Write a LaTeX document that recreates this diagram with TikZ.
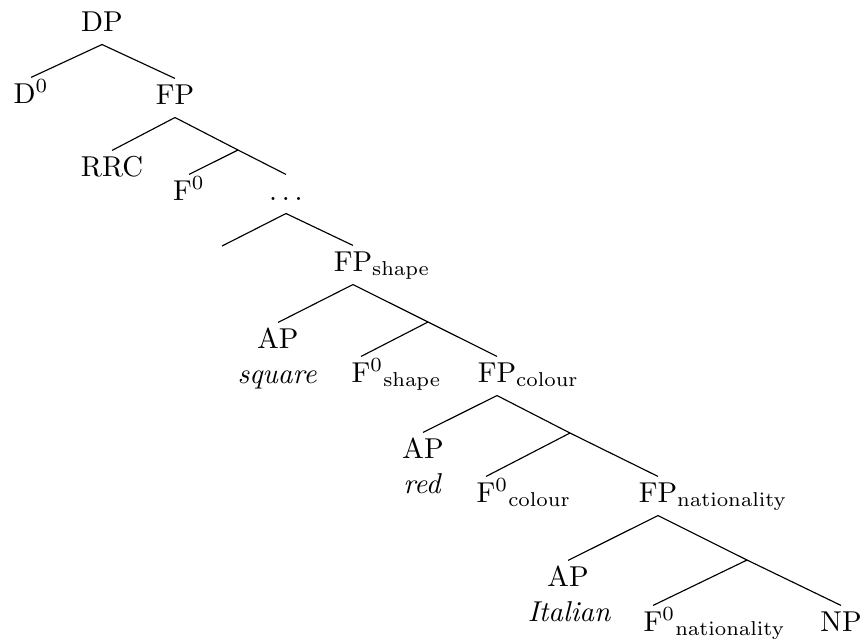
\documentclass[tikz,border=0pt]{standalone}
\newlength{\du}
\setlength{\du}{0.348pt}
\tikzset{
  catnode/.style={anchor=base, inner sep=0pt, text height=8.7pt, text depth=4.5pt},
  glossnode/.style={anchor=base, inner sep=0pt, font=\itshape},
  branch/.style={draw=black, line width=0.4pt}
}
\begin{document}
\begin{tikzpicture}
\pgftransformxscale{1.000000}
\pgftransformyscale{-1.000000}
\useasboundingbox (0\du,0\du) rectangle (864\du,642\du);
% categories
\node[catnode] (dp) at (102\du,31\du){DP};
\node[catnode] (d0) at (31\du,103\du){D$^0$};
\node[catnode] (fp) at (175\du,104\du){FP};
\node[catnode] (rrc) at (112\du,176\du){RRC};
\node[catnode] (f0) at (189\du,200\du){F$^0$};
\node[catnode] (dots) at (286\du,200\du){$\ldots$};
\node[catnode] (fpshape) at (353\du,271\du){FP\rlap{$_{\mathrm{shape}}$}};
\node[catnode] (apsquare) at (278\du,348\du){AP};
\node[glossnode] (square) at (277\du,383\du){square};
\node[catnode] (f0shape) at (361\du,382\du){F\rlap{$^{0}{}_{\mathrm{shape}}$}};
\node[catnode] (fpcolour) at (497\du,382\du){FP\rlap{$_{\mathrm{colour}}$}};
\node[catnode] (apred) at (423\du,458\du){AP};
\node[glossnode] (red) at (422\du,493\du){red};
\node[catnode] (f0colour) at (486\du,502\du){F\rlap{$^{0}{}_{\mathrm{colour}}$}};
\node[catnode] (fpnation) at (658\du,502\du){FP\rlap{$_{\mathrm{nationality}}$}};
\node[catnode] (apitalian) at (568\du,586\du){AP};
\node[glossnode] (italian) at (569\du,621\du){Italian};
\node[catnode] (f0nation) at (653\du,631\du){F\rlap{$^{0}{}_{\mathrm{nationality}}$}};
\node[catnode] (np) at (841\du,631\du){NP};
% branch points
\coordinate (b1) at (238\du,150\du);
\coordinate (gap) at (222\du,246\du);
\coordinate (b2) at (428\du,322\du);
\coordinate (b3) at (570\du,433\du);
\coordinate (b4) at (747\du,560\du);
% branches
\draw[branch] (dp.south) -- (d0.north);
\draw[branch] (dp.south) -- (fp.north);
\draw[branch] (fp.south) -- (rrc.north);
\draw[branch] (fp.south) -- (b1) -- (dots.north);
\draw[branch] (b1) -- (f0.north);
\draw[branch] (dots.south) -- (gap);
\draw[branch] (dots.south) -- (fpshape.north);
\draw[branch] (fpshape.south) -- (apsquare.north);
\draw[branch] (fpshape.south) -- (b2) -- (fpcolour.north);
\draw[branch] (b2) -- (f0shape.north);
\draw[branch] (fpcolour.south) -- (apred.north);
\draw[branch] (fpcolour.south) -- (b3) -- (fpnation.north);
\draw[branch] (b3) -- (f0colour.north);
\draw[branch] (fpnation.south) -- (apitalian.north);
\draw[branch] (fpnation.south) -- (b4) -- (np.north);
\draw[branch] (b4) -- (f0nation.north);
\end{tikzpicture}
\end{document}
